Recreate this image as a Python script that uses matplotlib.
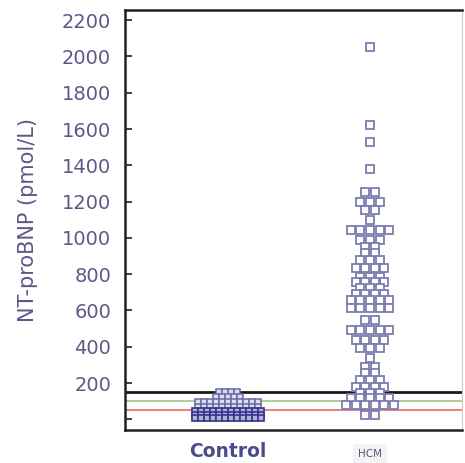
import numpy as np
import matplotlib
matplotlib.use("Agg")
import matplotlib.pyplot as plt

categories = ["Control", "HCM"]

# Control group (pmol/L)
control_values = (
    [150] * 4 + [125] * 5 + [95] * 11 + [70] * 11 +
    [45] * 12 + [25] * 12 + [8] * 12
)

# HCM group (pmol/L)
hcm_values = (
    [2050, 1620, 1530, 1380] +
    [1254] * 2 + [1199] * 3 + [1153] * 2 + [1098] * 1 + [1043] * 5 +
    [988] * 3 + [951] * 2 + [914] * 2 + [878] * 3 + [834] * 4 +
    [786] * 3 + [758] * 4 + [723] * 3 + [690] * 4 + [657] * 5 +
    [613] * 5 + [547] * 2 + [492] * 5 + [437] * 4 + [393] * 3 +
    [338] * 1 + [290] * 2 + [253] * 2 + [216] * 3 + [180] * 4 +
    [143] * 3 + [117] * 5 + [79] * 6 + [24] * 2
)

thresholds = [148, 100, 52]
threshold_colors = ["#1a1a1a", "#a8c890", "#e07878"]
threshold_widths = [2.0, 1.3, 1.3]

yticks = [200, 400, 600, 800, 1000, 1200, 1400, 1600, 1800, 2000, 2200]

W, H = 465, 463
fig = plt.figure(figsize=(W / 100, H / 100), dpi=100)
ax = fig.add_axes([125 / W, 1 - 430 / H, (462 - 125) / W, (430 - 10) / H])

ylim = (-59, 2256)
xlim = (-0.725, 1.648)
ax.set_ylim(*ylim)
ax.set_xlim(*xlim)

px_per_x = (462 - 125) / (xlim[1] - xlim[0])


def row_layout(values, center, step_px):
    """Points sharing a value are spread in a centred row (dot-plot style)."""
    values = np.asarray(values, dtype=float)
    xs = np.zeros(len(values))
    for v in np.unique(values):
        idx = np.where(values == v)[0]
        n = len(idx)
        offs = (np.arange(n) - (n - 1) / 2.0) * step_px
        xs[idx] = center + offs / px_per_x
    return xs


cv = np.array(control_values, dtype=float)
hv = np.array(hcm_values, dtype=float)

cx = row_layout(cv, 0, 6.0)
hx = row_layout(hv, 1, 9.6)

for t, c, w in zip(thresholds, threshold_colors, threshold_widths):
    ax.axhline(t, color=c, lw=w, zorder=1)

low = cv < 60
ax.plot(cx[~low], cv[~low], ls="none", marker="s", ms=4.6, mfc="#dcdcee",
        mec="#6a6aa8", mew=1.1, zorder=3)
ax.plot(cx[low], cv[low], ls="none", marker="s", ms=4.6, mfc="#b0b0d8",
        mec="#34348a", mew=1.2, zorder=3)
ax.plot(hx, hv, ls="none", marker="s", ms=5.6, mfc="white", mec="#7c7cb2",
        mew=1.3, zorder=3)

tick_color = "#5a5a88"
ax.set_yticks([0] + yticks)
ax.set_yticklabels([""] + [str(v) for v in yticks], fontsize=14, color=tick_color)
ax.tick_params(axis="y", direction="in", length=5, width=1.2, pad=10,
               colors="#222222", labelcolor=tick_color)
ax.set_xticks([])
for s in ax.spines.values():
    s.set_linewidth(1.8)
    s.set_color("#222222")
ax.spines["right"].set_linewidth(0.8)
ax.spines["right"].set_color("#cccccc")

ax.set_ylabel("NT-proBNP (pmol/L)", fontsize=15, color=tick_color, labelpad=17)

ax.text(0, -0.028, categories[0], transform=ax.get_xaxis_transform(), ha="center",
        va="top", fontsize=13.5, fontweight="bold", color="#4a4a8c")
ax.text(1, -0.045, categories[1], transform=ax.get_xaxis_transform(), ha="center",
        va="top", fontsize=7.5, color="#55557a",
        bbox=dict(boxstyle="square,pad=0.5", fc="#f4f4f6", ec="none"))

fig.savefig("out.png", dpi=100)
